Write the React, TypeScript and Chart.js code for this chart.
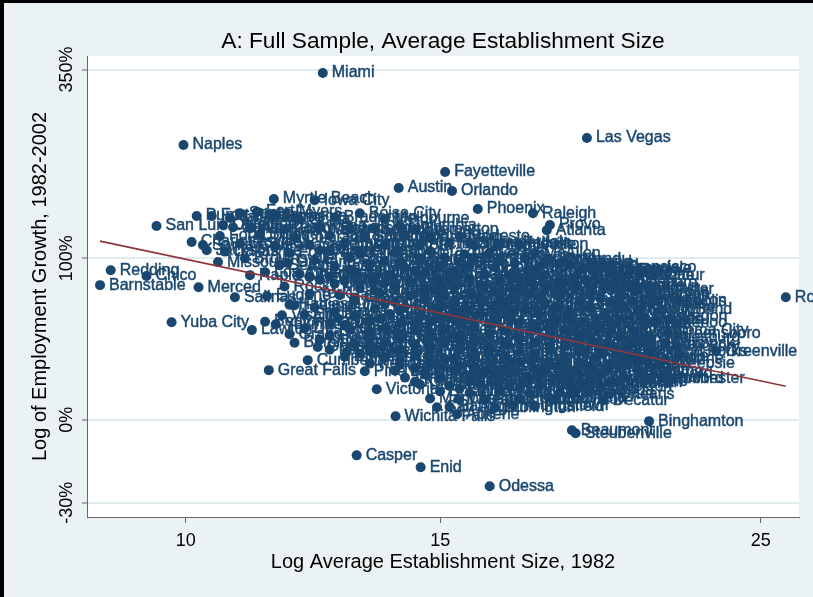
import React, { useEffect, useRef } from "react";
import { Chart, registerables } from "chart.js";

Chart.register(...registerables);

// ---- Text ----
const chartTitle = "A: Full Sample, Average Establishment Size";
const xTitle = "Log Average Establishment Size, 1982";
const yTitle = "Log of Employment Growth, 1982-2002";

// ---- Axis ticks (labels in levels / percent) ----
const xTickValues = [10, 15, 25];
const yTickPercents = [350, 100, 0, -30];

// ---- Labelled outlying metro areas (x = ln avg establishment size, y = ln(1+growth)) ----
const edgeCities = [
  "Miami", "Naples", "Las Vegas", "Fayetteville", "Austin", "Orlando", "Myrtle Beach", "Iowa City", "Fort Myers", "Punta Gorda",
  "Fort Pierce", "San Luis Obispo", "Boise City", "Phoenix", "Raleigh", "Provo", "Atlanta", "Columbia", "Huntsville", "Salt Lake City",
  "Nashville", "Bloomington", "Charlotte", "Minneapolis", "Rochester", "Greensboro", "Hickory", "Greenville", "Redding", "Chico",
  "Barnstable", "Merced", "Salinas", "Eugene", "Visalia", "Yuba City", "Lawton", "Yakima", "Grand Junction", "Gadsden",
  "Dothan", "Cumberland", "Great Falls", "Pine Bluff", "Victoria", "Wichita Falls", "Casper", "Enid", "Odessa", "Beaumont",
  "Steubenville", "Binghamton", "Youngstown", "San Angelo", "Abilene", "Wheeling", "Mansfield", "New Orleans", "Decatur", "Kokomo",
  "Rockford", "Rochester", "Johnstown", "Huntington", "Parkersburg", "Grand Rapids", "Cedar Rapids", "Lakeland", "Santa Rosa", "Santa Fe",
  "Charlottesville", "Santa Cruz", "Jacksonville", "Panama City", "Gainesville", "Missoula", "Daytona Beach", "Rapid City", "Bellingham", "Fresno",
  "Alexandria", "Sioux Falls",
];
const edgeSize = [
  2.521, 2.299, 2.942, 2.716, 2.642, 2.727, 2.443, 2.508, 2.416, 2.320,
  2.344, 2.256, 2.580, 2.768, 2.856, 2.883, 2.878, 2.644, 2.800, 2.759,
  2.899, 2.931, 2.996, 3.014, 3.259, 3.070, 3.087, 3.148, 2.183, 2.240,
  2.166, 2.323, 2.381, 2.432, 2.456, 2.280, 2.408, 2.446, 2.468, 2.513,
  2.559, 2.497, 2.435, 2.588, 2.607, 2.637, 2.575, 2.677, 2.787, 2.918,
  2.924, 3.041, 2.824, 2.703, 2.735, 2.738, 2.881, 2.920, 2.969, 2.995,
  3.026, 3.063, 2.950, 2.993, 2.928, 2.926, 2.956, 2.362, 2.378, 2.389,
  2.312, 2.330, 2.336, 2.446, 2.516, 2.354, 2.465, 2.405, 2.500, 2.476,
  2.545, 2.755,
];
const edgeGrowth = [
  1.489, 1.180, 1.210, 1.064, 0.995, 0.982, 0.948, 0.943, 0.892, 0.875,
  0.875, 0.832, 0.887, 0.905, 0.887, 0.836, 0.814, 0.832, 0.754, 0.694,
  0.673, 0.642, 0.621, 0.509, 0.526, 0.372, 0.312, 0.294, 0.642, 0.617,
  0.578, 0.569, 0.526, 0.531, 0.449, 0.419, 0.385, 0.410, 0.367, 0.312,
  0.290, 0.256, 0.213, 0.208, 0.131, 0.015, -0.153, -0.204, -0.286, -0.045,
  -0.058, -0.006, 0.062, 0.054, 0.024, 0.088, 0.097, 0.110, 0.084, 0.165,
  0.200, 0.178, 0.226, 0.269, 0.320, 0.578, 0.428, 0.836, 0.827, 0.887,
  0.763, 0.750, 0.728, 0.746, 0.728, 0.677, 0.673, 0.621, 0.612, 0.492,
  0.436, 0.758,
];

// ---- Core cloud of metro areas ----
const coreCities = [
  "Tallahassee", "Sarasota", "Ocala", "Bradenton", "Melbourne",
  "West Palm Beach", "Fort Walton Beach", "Reno", "Tucson", "Olympia", "Bremerton",
  "Fort Collins", "Boulder", "Colorado Springs", "Santa Barbara", "San Diego", "Riverside", "Anaheim", "Modesto",
  "Stockton", "Sacramento", "Bakersfield", "Medford", "Anchorage", "Fort Lauderdale", "Tampa", "Houston",
  "Dallas", "Fort Worth", "San Antonio", "Killeen", "Bryan", "Brazoria", "Galveston", "Laredo", "McAllen",
  "Brownsville", "El Paso", "Las Cruces", "Albuquerque", "Denver", "Greeley", "Billings", "Spokane", "Richland",
  "Seattle", "Tacoma", "Portland", "Salem", "Vallejo", "Yolo", "Honolulu", "San Jose", "Oakland", "San Francisco",
  "Los Angeles", "Charleston", "Savannah", "Wilmington", "Biloxi", "Pensacola", "Mobile", "Montgomery", "Macon", "Augusta", "Athens",
  "Columbus", "Albany", "Chattanooga", "Knoxville", "Johnson City", "Asheville", "Spartanburg", "Anderson", "Florence", "Sumter", "Goldsboro",
  "Rocky Mount", "Burlington", "Danville", "Lynchburg", "Roanoke", "Richmond", "Norfolk", "Washington", "Baltimore", "Hagerstown", "Lancaster",
  "York", "Harrisburg", "Reading", "Allentown", "Scranton", "Williamsport", "State College", "Altoona", "Erie", "Pittsburgh", "Sharon", "Canton",
  "Akron", "Cleveland", "Lorain", "Toledo", "Lima", "Dayton", "Springfield", "Columbus", "Cincinnati", "Hamilton",
  "Louisville", "Lexington", "Owensboro", "Evansville", "Terre Haute", "Indianapolis", "Muncie", "Anderson", "Lafayette", "Fort Wayne", "South Bend",
  "Elkhart", "Kalamazoo", "Battle Creek", "Jackson", "Lansing", "Ann Arbor", "Detroit", "Flint", "Saginaw", "Bay City", "Muskegon",
  "Benton Harbor", "Gary", "Chicago", "Kankakee", "Joliet", "Aurora", "Champaign", "Peoria", "Springfield", "Davenport", "Dubuque", "Waterloo",
  "Des Moines", "Sioux City", "Omaha", "Lincoln", "Topeka", "Lawrence", "Kansas City", "St. Joseph", "Wichita", "Tulsa", "Oklahoma City",
  "Fort Smith", "Little Rock", "Texarkana", "Shreveport", "Monroe", "Lake Charles", "Lafayette", "Baton Rouge", "Houma", "Jackson", "Hattiesburg",
  "Birmingham", "Anniston", "Florence", "Memphis", "Jackson", "Clarksville", "St. Louis", "Columbia", "Springfield", "Joplin", "Amarillo", "Lubbock",
  "Midland", "Waco", "Tyler", "Longview", "Sherman", "Temple", "Corpus Christi", "Pueblo", "Bismarck", "Fargo", "Grand Forks",
  "Duluth", "St. Cloud", "Eau Claire", "La Crosse", "Wausau", "Green Bay", "Appleton", "Sheboygan", "Madison", "Janesville", "Racine",
  "Kenosha", "Milwaukee", "Buffalo", "Niagara Falls", "Syracuse", "Utica", "Albany", "Glens Falls", "Elmira", "Poughkeepsie",
  "Newburgh", "New York", "Nassau", "Newark", "Jersey City", "Bergen", "Middlesex", "Monmouth", "Trenton",
  "Vineland", "Atlantic City", "Philadelphia", "Wilmington", "Dover", "Hartford", "New Haven", "Bridgeport", "Stamford",
  "Danbury", "Waterbury", "New London", "Providence", "Fall River", "New Bedford", "Brockton",
  "Boston", "Worcester", "Fitchburg", "Lowell", "Lawrence", "Nashua",
  "Manchester", "Portsmouth", "Portland", "Lewiston",
  "Bangor", "Burlington", "Pittsfield",
];
const coreSize = [
  2.373, 2.444, 2.484, 2.540, 2.620,
  2.405, 2.460, 2.516, 2.564, 2.604, 2.668,
  2.357, 2.421, 2.476, 2.532, 2.588, 2.652, 2.692, 2.739,
  2.389, 2.500, 2.556, 2.620, 2.676, 2.723, 2.763, 2.835,
  2.365, 2.468, 2.532, 2.580, 2.636, 2.692, 2.747, 2.787, 2.859,
  2.397, 2.508, 2.564, 2.620, 2.676, 2.715, 2.803, 2.843, 2.883,
  2.452, 2.540, 2.596, 2.652, 2.708, 2.755, 2.795, 2.867, 2.915, 2.939,
  2.429, 2.484, 2.572, 2.628, 2.684, 2.731, 2.779, 2.827, 2.875, 2.955, 2.979,
  2.516, 2.556, 2.604, 2.660, 2.708, 2.755, 2.803, 2.851, 2.899, 2.939, 2.986,
  2.460, 2.580, 2.636, 2.684, 2.731, 2.779, 2.827, 2.875, 2.923, 2.971, 3.018,
  2.500, 2.548, 2.612, 2.660, 2.708, 2.755, 2.803, 2.851, 2.899, 2.947, 2.994, 3.042,
  2.572, 2.636, 2.684, 2.731, 2.779, 2.827, 2.875, 2.931, 2.979, 3.050,
  2.508, 2.604, 2.652, 2.700, 2.747, 2.795, 2.843, 2.891, 2.947, 3.002, 3.026,
  2.492, 2.572, 2.628, 2.676, 2.723, 2.771, 2.819, 2.867, 2.915, 2.971, 3.034,
  2.429, 2.532, 2.596, 2.644, 2.692, 2.739, 2.787, 2.835, 2.883, 2.939, 2.986, 3.050,
  2.492, 2.564, 2.620, 2.668, 2.715, 2.763, 2.811, 2.859, 2.907, 2.963, 3.018,
  2.532, 2.596, 2.644, 2.692, 2.739, 2.787, 2.835, 2.883, 2.931, 2.994, 3.042,
  2.476, 2.572, 2.620, 2.668, 2.715, 2.763, 2.811, 2.859, 2.907, 2.955, 3.010, 3.066,
  2.532, 2.596, 2.644, 2.692, 2.739, 2.787, 2.835, 2.883, 2.939, 2.986, 3.042,
  2.556, 2.620, 2.668, 2.715, 2.763, 2.811, 2.859, 2.907, 2.955, 3.010, 3.066,
  2.596, 2.644, 2.692, 2.739, 2.787, 2.835, 2.883, 2.931, 2.979, 3.002,
  2.636, 2.684, 2.731, 2.779, 2.827, 2.875, 2.923, 2.971, 3.026,
  2.652, 2.708, 2.755, 2.803, 2.851, 2.899, 2.947, 3.002, 3.042,
  2.676, 2.723, 2.771, 2.819, 2.867, 2.915, 2.963,
  2.708, 2.755, 2.803, 2.851, 2.899, 2.947,
  2.692, 2.779, 2.835, 2.891,
  2.723, 2.795, 2.859,
];
const coreGrowth = [
  0.866, 0.872, 0.860, 0.869, 0.862,
  0.823, 0.818, 0.828, 0.820, 0.826, 0.817,
  0.789, 0.795, 0.784, 0.791, 0.786, 0.793, 0.781, 0.788,
  0.757, 0.751, 0.758, 0.749, 0.755, 0.760, 0.748, 0.753,
  0.722, 0.716, 0.725, 0.713, 0.719, 0.724, 0.711, 0.718, 0.715,
  0.692, 0.686, 0.695, 0.683, 0.690, 0.697, 0.684, 0.693, 0.688,
  0.663, 0.657, 0.665, 0.654, 0.661, 0.668, 0.655, 0.659, 0.664, 0.652,
  0.633, 0.626, 0.635, 0.624, 0.631, 0.637, 0.627, 0.632, 0.622, 0.636, 0.628,
  0.601, 0.595, 0.604, 0.592, 0.599, 0.606, 0.594, 0.600, 0.597, 0.603, 0.591,
  0.572, 0.565, 0.574, 0.563, 0.569, 0.576, 0.562, 0.570, 0.566, 0.573, 0.561,
  0.541, 0.535, 0.544, 0.532, 0.539, 0.546, 0.533, 0.540, 0.536, 0.543, 0.531, 0.538,
  0.511, 0.505, 0.514, 0.502, 0.509, 0.516, 0.503, 0.510, 0.506, 0.513,
  0.482, 0.476, 0.484, 0.473, 0.479, 0.486, 0.472, 0.480, 0.477, 0.483, 0.471,
  0.452, 0.446, 0.454, 0.443, 0.449, 0.456, 0.442, 0.450, 0.447, 0.453, 0.441,
  0.421, 0.415, 0.424, 0.413, 0.419, 0.426, 0.412, 0.420, 0.416, 0.423, 0.411, 0.418,
  0.392, 0.386, 0.394, 0.383, 0.389, 0.396, 0.382, 0.390, 0.387, 0.393, 0.381,
  0.361, 0.355, 0.364, 0.352, 0.359, 0.366, 0.353, 0.360, 0.356, 0.363, 0.351,
  0.331, 0.325, 0.334, 0.322, 0.329, 0.336, 0.323, 0.330, 0.326, 0.333, 0.321, 0.328,
  0.301, 0.295, 0.304, 0.292, 0.299, 0.306, 0.293, 0.300, 0.296, 0.303, 0.291,
  0.271, 0.265, 0.274, 0.262, 0.269, 0.276, 0.263, 0.270, 0.266, 0.273, 0.261,
  0.241, 0.235, 0.244, 0.232, 0.239, 0.246, 0.233, 0.240, 0.236, 0.243,
  0.211, 0.205, 0.214, 0.202, 0.208, 0.215, 0.203, 0.210, 0.206,
  0.181, 0.175, 0.184, 0.172, 0.178, 0.185, 0.173, 0.180, 0.176,
  0.151, 0.145, 0.154, 0.142, 0.148, 0.155, 0.143,
  0.121, 0.115, 0.124, 0.112, 0.118, 0.125,
  0.091, 0.085, 0.090, 0.086,
  0.056, 0.051, 0.057,
];

// ---- Further metro areas inside the dense middle of the cloud ----
const midCities = [
  "Aiken", "Alton", "Ames", "Ashland",
  "Auburn", "Beloit", "Bristol", "Brunswick", "Carbondale", "Rome",
  "Coeur d'Alene", "Corvallis", "Cleveland", "Conway", "Dalton", "Decatur",
  "Dover", "Dubuque", "Elizabethtown", "El Centro", "Farmington", "Flagstaff",
  "Florence", "Fond du Lac", "Frederick", "Gainesville", "Glens Falls",
  "Grand Island", "Greenwood", "Gulfport", "Hanford", "Harrisonburg",
  "Hattiesburg", "Hilo", "Hinesville", "Holland", "Hot Springs", "Idaho Falls",
  "Ithaca", "Jefferson City", "Jonesboro", "Kingsport", "Kingston", "Logan",
  "Lake Havasu", "Lebanon", "Longview", "Madera", "Manhattan",
  "Mankato", "Marion", "Michigan City", "Morgantown", "Morristown", "Napa",
  "Mount Vernon", "Niles", "Norwich", "Ogden", "Oshkosh",
  "Ottawa", "Oxnard", "Palm Bay", "Pascagoula", "Pocatello", "Yuma",
  "Port St. Lucie", "Prescott", "Ruston", "Salisbury", "Sandusky",
  "Sebastian", "Sebring", "Sierra Vista", "Stillwater", "Statesville",
  "Tifton", "Torrington", "Tupelo", "Twin Falls", "Valdosta",
  "Vero Beach", "Warner Robins", "Watertown", "Wenatchee",
  "Winchester", "Winston-Salem", "Wooster", "Zanesville",
  "Kennewick", "Lufkin", "Meridian", "Natchez", "Paducah",
  "Quincy", "Richmond", "Salina",
];
const midSize = [
  2.644, 2.739, 2.827, 2.907,
  2.564, 2.668, 2.747, 2.851, 2.963, 3.010,
  2.532, 2.628, 2.723, 2.819, 2.923, 3.026,
  2.540, 2.620, 2.708, 2.803, 2.899, 2.971,
  2.604, 2.700, 2.795, 2.891, 2.994,
  2.572, 2.684, 2.771, 2.867, 2.963,
  2.468, 2.620, 2.708, 2.803, 2.899, 2.994,
  2.540, 2.644, 2.731, 2.827, 2.915, 3.026,
  2.612, 2.708, 2.795, 2.891, 2.994,
  2.556, 2.668, 2.763, 2.859, 2.955, 3.034,
  2.596, 2.692, 2.787, 2.883, 2.979,
  2.516, 2.644, 2.739, 2.835, 2.931, 3.026,
  2.596, 2.692, 2.787, 2.883, 2.979,
  2.580, 2.668, 2.763, 2.859, 2.963,
  2.644, 2.731, 2.819, 2.907, 2.994,
  2.668, 2.763, 2.859, 2.947,
  2.684, 2.771, 2.867, 2.963,
  2.668, 2.755, 2.843, 2.931, 2.979,
  2.739, 2.835, 2.923,
];
const midGrowth = [
  0.675, 0.679, 0.671, 0.677,
  0.645, 0.641, 0.648, 0.643, 0.647, 0.640,
  0.615, 0.619, 0.611, 0.617, 0.613, 0.618,
  0.584, 0.588, 0.580, 0.586, 0.582, 0.589,
  0.554, 0.558, 0.550, 0.556, 0.552,
  0.524, 0.528, 0.520, 0.526, 0.522,
  0.494, 0.498, 0.490, 0.496, 0.492, 0.499,
  0.464, 0.468, 0.460, 0.466, 0.462, 0.469,
  0.434, 0.438, 0.430, 0.436, 0.432,
  0.404, 0.408, 0.400, 0.406, 0.402, 0.407,
  0.374, 0.378, 0.370, 0.376, 0.372,
  0.344, 0.348, 0.340, 0.346, 0.342, 0.349,
  0.314, 0.318, 0.310, 0.316, 0.312,
  0.284, 0.288, 0.280, 0.286, 0.282,
  0.254, 0.258, 0.250, 0.256, 0.252,
  0.223, 0.227, 0.219, 0.225,
  0.193, 0.197, 0.189, 0.195,
  0.163, 0.167, 0.159, 0.165, 0.161,
  0.133, 0.137, 0.129,
];

// ---- Linear fit endpoints ----
const fitSize = [2.166, 3.259];
const fitGrowth = [0.767, 0.144];

const NAVY = "#1a476f";
const MAROON = "#90353b";
const BG = "#eaf2f3";
const GRID = "#e1eaee";
const AXIS = "#666666";
const FONT = '"Liberation Sans", Arial, sans-serif';

export default function App() {
  const ref = useRef<HTMLCanvasElement | null>(null);

  useEffect(() => {
    const canvas = ref.current;
    if (!canvas) return;
    const W = 813;
    const H = 597;
    const names = [...edgeCities, ...coreCities, ...midCities];
    const xs = [...edgeSize, ...coreSize, ...midSize];
    const ys = [...edgeGrowth, ...coreGrowth, ...midGrowth];
    const points = names.map((_, i) => ({ x: xs[i], y: ys[i] }));
    const fitPoints = fitSize.map((v, i) => ({ x: v, y: fitGrowth[i] }));

    const decor = {
      id: "decor",
      beforeDraw(chart: any) {
        const { ctx, chartArea: a } = chart;
        ctx.save();
        ctx.fillStyle = BG;
        ctx.fillRect(0, 0, W, H);
        ctx.fillStyle = "#ffffff";
        ctx.fillRect(a.left, a.top, a.right - a.left, a.bottom - a.top);
        ctx.fillStyle = "#000000";
        ctx.fillRect(0, 0, W, 3);
        ctx.fillRect(0, 0, 4, H);
        ctx.restore();
      },
      afterDatasetDraw(chart: any, args: any) {
        if (args.index !== 1) return;
        const ctx = chart.ctx;
        ctx.save();
        ctx.font = `16px ${FONT}`;
        ctx.fillStyle = NAVY;
        ctx.strokeStyle = NAVY;
        ctx.lineWidth = 0.45;
        ctx.textAlign = "left";
        ctx.textBaseline = "middle";
        args.meta.data.forEach((el: any, i: number) => {
          ctx.fillText(names[i], el.x + 9, el.y);
          ctx.strokeText(names[i], el.x + 9, el.y);
        });
        ctx.restore();
      },
      afterDraw(chart: any) {
        const { ctx, chartArea: a } = chart;
        const xs_ = chart.scales.x;
        const ys_ = chart.scales.y;
        const cx = (a.left + a.right) / 2;
        ctx.save();
        ctx.fillStyle = "#000000";
        ctx.textAlign = "center";
        ctx.textBaseline = "alphabetic";
        ctx.font = `22.7px ${FONT}`;
        ctx.fillText(chartTitle, cx, 48);
        ctx.font = `18px ${FONT}`;
        xTickValues.forEach((v) => {
          ctx.fillText(String(v), xs_.getPixelForValue(Math.log(v)), 546);
        });
        ctx.font = `20px ${FONT}`;
        ctx.fillText(xTitle, cx, 568);
        ctx.font = `18px ${FONT}`;
        yTickPercents.forEach((p) => {
          const py = ys_.getPixelForValue(Math.log(1 + p / 100));
          ctx.save();
          ctx.translate(72, py);
          ctx.rotate(-Math.PI / 2);
          ctx.fillText(`${p}%`, 0, 0);
          ctx.restore();
        });
        ctx.save();
        ctx.translate(46, (a.top + a.bottom) / 2);
        ctx.rotate(-Math.PI / 2);
        ctx.font = `20px ${FONT}`;
        ctx.fillText(yTitle, 0, 0);
        ctx.restore();
        ctx.restore();
      },
    };

    const chart = new Chart(canvas, {
      type: "scatter",
      data: {
        datasets: [
          {
            type: "line",
            data: fitPoints,
            borderColor: MAROON,
            borderWidth: 1.6,
            pointRadius: 0,
            fill: false,
            clip: false,
          } as any,
          {
            type: "scatter",
            data: points,
            backgroundColor: NAVY,
            borderColor: NAVY,
            borderWidth: 0,
            pointRadius: 5,
            pointHoverRadius: 5,
            clip: false,
          } as any,
        ],
      },
      options: {
        responsive: false,
        devicePixelRatio: 1,
        animation: false,
        events: [],
        layout: { padding: { left: 0, top: 56, right: 14, bottom: 0 } },
        plugins: { legend: { display: false }, tooltip: { enabled: false }, title: { display: false } },
        scales: {
          x: {
            type: "linear",
            min: 2.1452,
            max: 3.28,
            afterBuildTicks: (s: any) => {
              s.ticks = xTickValues.map((v) => ({ value: Math.log(v) }));
            },
            afterFit: (s: any) => {
              s.height = 80;
            },
            ticks: { display: false },
            grid: {
              drawOnChartArea: false,
              drawTicks: true,
              tickLength: 6,
              tickColor: AXIS,
              tickWidth: 1,
              lineWidth: 1,
            },
            border: { display: true, color: AXIS, width: 1 },
          },
          y: {
            type: "linear",
            min: -0.4177,
            max: 1.5621,
            afterBuildTicks: (s: any) => {
              s.ticks = yTickPercents.map((p) => ({ value: Math.log(1 + p / 100) }));
            },
            afterFit: (s: any) => {
              s.width = 87;
            },
            ticks: { display: false },
            grid: {
              color: GRID,
              lineWidth: 2,
              drawTicks: true,
              tickLength: 5,
              tickColor: AXIS,
              tickWidth: 1,
            },
            border: { display: true, color: AXIS, width: 1 },
          },
        },
      } as any,
      plugins: [decor as any],
    });
    return () => chart.destroy();
  }, []);

  return (
    <div style={{ position: "fixed", left: 0, top: 0, width: 813, height: 597 }}>
      <canvas ref={ref} width={813} height={597} style={{ display: "block" }} />
    </div>
  );
}
